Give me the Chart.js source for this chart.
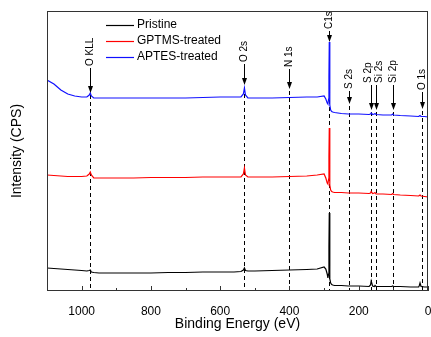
<!DOCTYPE html>
<html>
<head>
<meta charset="utf-8">
<script src="https://cdn.jsdelivr.net/npm/chart.js@4.4.0/dist/chart.umd.min.js"></script>
<style>
  html, body { margin: 0; padding: 0; background: #fff; }
</style>
</head>
<body>
<canvas id="xps-survey" width="431" height="337"></canvas>
<script>
const energy = [1100, 1080, 1060, 1040, 1020, 1000, 985, 978, 975, 972, 965, 950, 900, 850, 800, 750, 700, 650, 600, 560, 540, 533, 530, 527, 520, 500, 450, 400, 350, 320, 300, 295, 291, 289, 287, 286, 285, 284, 283, 281, 278, 275, 270, 250, 230, 200, 170, 166, 164, 160, 155, 153, 150, 130, 105, 102, 99, 80, 50, 27, 25, 23, 20, 10, 0];

const pristine = [23, 22.5, 22, 21.5, 21, 20.5, 20, 20.5, 21, 19, 18.5, 18, 18, 18, 18, 18.5, 18.5, 19, 19, 19, 19.5, 21, 23, 20.5, 20, 20, 20.5, 21, 21.5, 22, 24, 22, 17, 13, 17, 45, 78, 40, 12, 8, 6.5, 6, 5.5, 5.5, 5, 5, 4.5, 6, 10, 5, 4.5, 5.5, 4.5, 4.5, 4.5, 5, 4.5, 4.5, 4, 4, 5.5, 8, 4.5, 4, 4];

const gptms = [116, 115.5, 115, 114.5, 114.5, 114.5, 115, 117, 119, 116, 113, 113, 113, 113, 113.5, 113.5, 113.5, 114, 114, 114, 114, 117, 123, 116, 114, 114, 114, 114.5, 115, 116, 117, 113, 108, 107, 112, 135, 163, 132, 106, 101, 99.5, 99, 98.5, 98.5, 98, 98, 97.5, 98, 99.5, 97.5, 98, 98.5, 97, 97, 96.5, 97.5, 96.5, 96, 95.5, 95, 95.5, 96, 95, 94.5, 94];

const aptes = [211, 207, 201, 197, 195, 194, 194, 196, 198, 195, 193, 193, 193, 193, 193, 193, 193, 193.5, 194, 194, 194, 197, 203, 196, 193, 193, 193, 193.5, 194, 194, 195, 192, 188, 187, 192, 215, 249, 212, 186, 181, 179.5, 179, 178.5, 177.5, 177, 177, 176.5, 177, 178, 176.5, 177, 177.5, 176.5, 176, 176, 177, 176, 175.5, 175, 174.5, 175, 175.5, 174.5, 174.5, 174];

const peakNames = ['O KLL', 'O 2s', 'N 1s', 'C1s', 'S 2s', 'S 2p', 'Si 2s', 'Si 2p', 'O 1s'];
const peakEnergy = [975, 530, 400, 285, 228, 164, 150, 100, 16];
// arrow tip and label foot for each marker, in intensity units
const arrowTip = [198, 206, 202, 249, 187, 181, 181, 181, 182];
const labelFoot = [225, 229, 224, 262, 202, 208, 208, 208, 201];
// S 2p / Si 2s sit too close, nudge their text apart (px)
const labelNudge = [0, 0, 0, 0, 0, -3, 3, 0, 0];

const xTicks = [0, 100, 200, 300, 400, 500, 600, 700, 800, 900, 1000, 1100];

const FONT = '"Liberation Sans", Arial, sans-serif';

const toPoints = vals => energy.map((e, i) => ({ x: e, y: vals[i] }));

// dashed guides go under the spectra
const guides = {
  id: 'guides',
  beforeDatasetsDraw(chart) {
    const { ctx, chartArea: a, scales: { x, y } } = chart;
    ctx.save();
    ctx.strokeStyle = '#000';
    ctx.lineWidth = 1;
    ctx.setLineDash([4, 3]);
    peakEnergy.forEach((e, i) => {
      const px = Math.round(x.getPixelForValue(e)) + 0.5;
      ctx.beginPath();
      ctx.moveTo(px, y.getPixelForValue(arrowTip[i]) + 2);
      ctx.lineTo(px, a.bottom);
      ctx.stroke();
    });
    ctx.restore();
  },
  afterDatasetsDraw(chart) {
    const { ctx, chartArea: a, scales: { x, y } } = chart;
    ctx.save();
    ctx.strokeStyle = '#000';
    ctx.fillStyle = '#000';
    ctx.lineWidth = 1;

    // arrows + rotated labels
    peakEnergy.forEach((e, i) => {
      const px = Math.round(x.getPixelForValue(e)) + 0.5;
      const tip = y.getPixelForValue(arrowTip[i]);
      const foot = y.getPixelForValue(labelFoot[i]);
      ctx.beginPath();
      ctx.moveTo(px, foot + 2);
      ctx.lineTo(px, tip - 5);
      ctx.stroke();
      ctx.beginPath();
      ctx.moveTo(px - 2.5, tip - 7);
      ctx.lineTo(px + 2.5, tip - 7);
      ctx.lineTo(px, tip);
      ctx.closePath();
      ctx.fill();

      ctx.save();
      ctx.translate(px + labelNudge[i], foot);
      ctx.rotate(-Math.PI / 2);
      ctx.font = '10px ' + FONT;
      ctx.textAlign = 'left';
      ctx.textBaseline = 'middle';
      ctx.fillText(peakNames[i], 0, 0);
      ctx.restore();
    });

    // frame
    ctx.strokeStyle = '#333';
    ctx.strokeRect(a.left + 0.5, a.top + 0.5, a.right - a.left - 1, a.bottom - a.top - 1);

    // inward ticks on the bottom axis
    xTicks.forEach(v => {
      const px = Math.round(x.getPixelForValue(v)) + 0.5;
      const len = v % 200 === 0 ? 5 : 3;
      ctx.beginPath();
      ctx.moveTo(px, a.bottom);
      ctx.lineTo(px, a.bottom - len);
      ctx.stroke();
    });

    // legend
    ctx.font = '12px ' + FONT;
    ctx.textBaseline = 'middle';
    ctx.textAlign = 'left';
    const rows = [25, 41, 57];
    chart.data.datasets.forEach((ds, i) => {
      ctx.strokeStyle = ds.borderColor;
      ctx.lineWidth = 1.2;
      ctx.beginPath();
      ctx.moveTo(106, rows[i] + 0.5);
      ctx.lineTo(134, rows[i] + 0.5);
      ctx.stroke();
      ctx.fillStyle = '#000';
      ctx.fillText(ds.label, 137, rows[i]);
    });
    ctx.restore();
  }
};

new Chart(document.getElementById('xps-survey'), {
  type: 'line',
  data: {
    datasets: [
      { label: 'Pristine', data: toPoints(pristine), borderColor: '#000000' },
      { label: 'GPTMS-treated', data: toPoints(gptms), borderColor: '#ff0000' },
      { label: 'APTES-treated', data: toPoints(aptes), borderColor: '#1010ff' },
    ],
  },
  options: {
    responsive: false,
    animation: false,
    devicePixelRatio: 1,
    layout: { padding: { top: 11, right: 3, left: 0, bottom: 0 } },
    elements: {
      point: { radius: 0 },
      line: { borderWidth: 1.2, tension: 0 },
    },
    plugins: {
      legend: { display: false },
      tooltip: { enabled: false },
    },
    scales: {
      x: {
        type: 'linear',
        reverse: true,
        min: 0,
        max: 1100,
        grid: { display: false },
        border: { display: false },
        afterBuildTicks: s => { s.ticks = xTicks.map(v => ({ value: v })); },
        ticks: {
          autoSkip: false,
          maxRotation: 0,
          padding: 5,
          color: '#000',
          font: { size: 12, family: FONT },
          callback: v => (v % 200 === 0 ? v : ''),
        },
        title: {
          display: true,
          text: 'Binding Energy (eV)',
          color: '#000',
          font: { size: 14, family: FONT },
          padding: { top: 0, bottom: 4 },
        },
        afterFit: s => { s.height = 46; },
      },
      y: {
        min: 0,
        max: 280,
        grid: { display: false },
        border: { display: false },
        ticks: { display: false },
        title: {
          display: true,
          text: 'Intensity (CPS)',
          color: '#000',
          font: { size: 14, family: FONT },
          padding: { top: 9, bottom: 0 },
        },
        afterFit: s => { s.width = 47; },
      },
    },
  },
  plugins: [guides],
});
</script>
</body>
</html>
